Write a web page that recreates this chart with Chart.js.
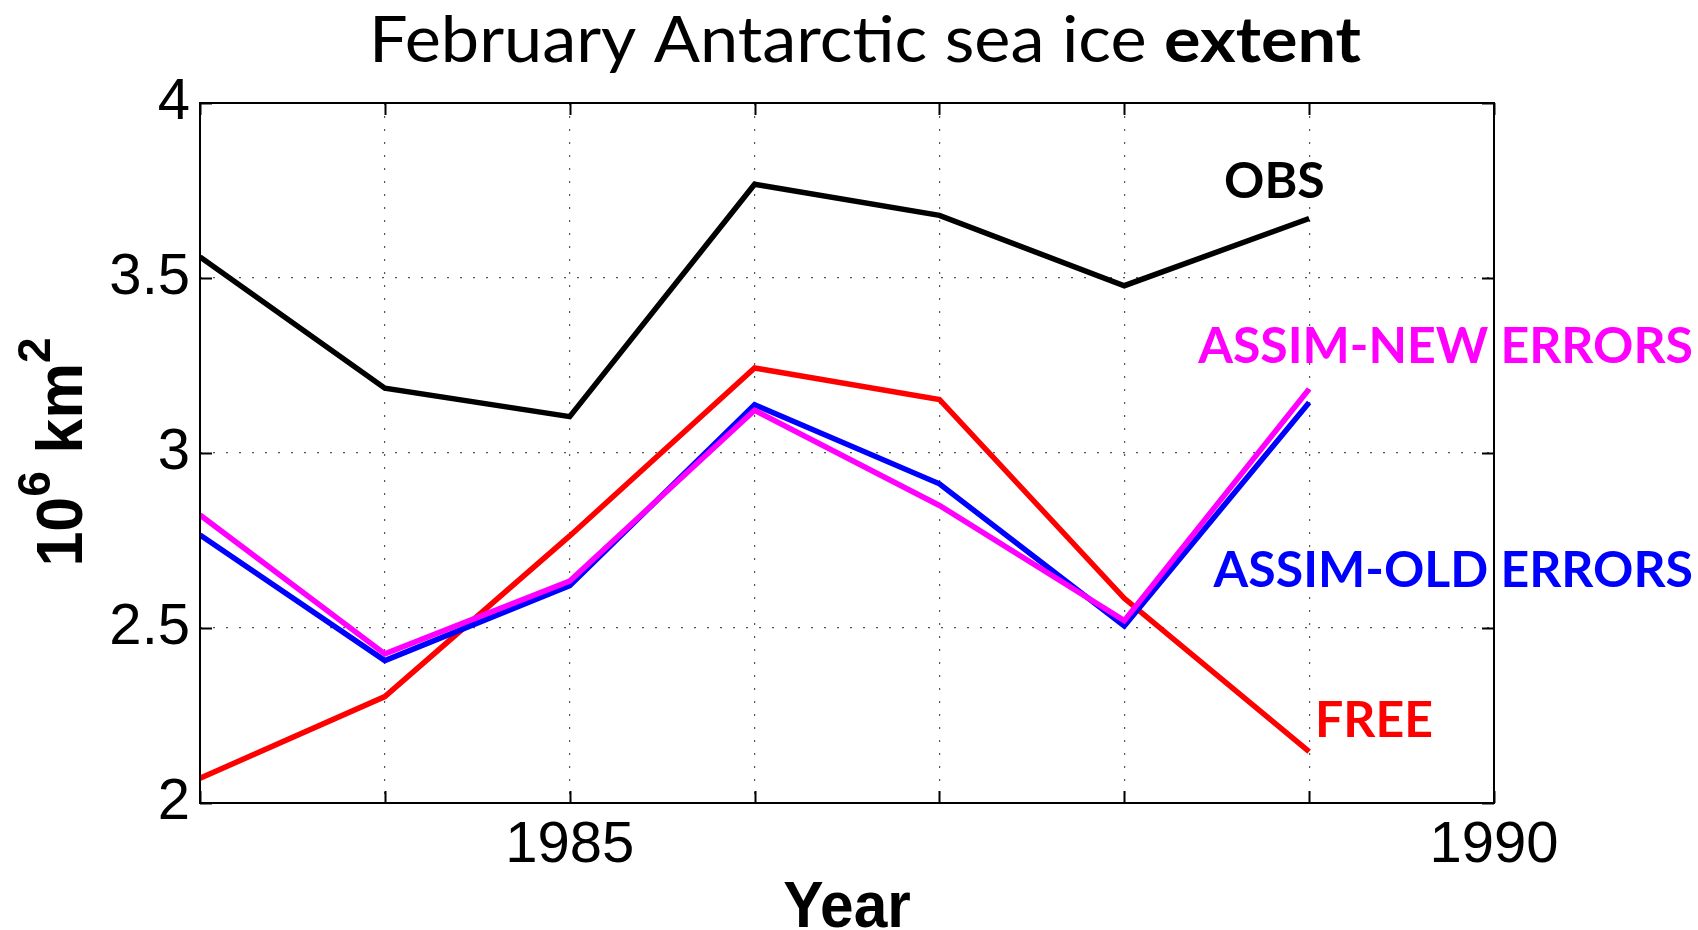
<!DOCTYPE html>
<html>
<head>
<meta charset="utf-8">
<script src="https://cdn.jsdelivr.net/npm/chart.js@4/dist/chart.umd.min.js"></script>
<style>
  html, body { margin: 0; padding: 0; background: #fff; overflow: hidden; }
  #wrap { width: 1698px; height: 930px; position: relative; }
</style>
</head>
<body>
<div id="wrap"><canvas id="c" width="1698" height="930"></canvas></div>
<script>
// February Antarctic sea ice extent, 10^6 km^2
const years = [1983, 1984, 1985, 1986, 1987, 1988, 1989];
const obs       = [3.560, 3.185, 3.104, 3.768, 3.679, 3.478, 3.670];
const free      = [2.071, 2.304, 2.763, 3.243, 3.153, 2.585, 2.147];
const assimOld  = [2.766, 2.407, 2.621, 3.138, 2.912, 2.506, 3.144];
const assimNew  = [2.823, 2.426, 2.634, 3.122, 2.850, 2.521, 3.183];
const xTickLabels = [1985, 1990];
const yTicks = [2, 2.5, 3, 3.5, 4];

const seriesNames  = ['OBS', 'ASSIM-NEW ERRORS', 'ASSIM-OLD ERRORS', 'FREE'];
const seriesColors = ['#000000', '#ff00ff', '#0000ff', '#ff0000'];

const toPoints = vals => years.map((yr, i) => ({ x: yr, y: vals[i] }));

const TICK_FONT = '"Liberation Sans", Arial, sans-serif';
const LABEL_FONT = 'Lato, "Open Sans", sans-serif';

// Title: regular text followed by a bold word, set to a fixed line width
const titlePlugin = {
  id: 'titleMixed',
  afterDraw(chart) {
    const ctx = chart.ctx;
    const partA = 'February Antarctic sea ice ';
    const partB = 'extent';
    const fA = '400 63px ' + LABEL_FONT;
    const fB = '700 63px ' + LABEL_FONT;
    const lineWidth = 992;
    ctx.save();
    ctx.fillStyle = '#000';
    ctx.textBaseline = 'alphabetic';
    ctx.font = fA; const wA = ctx.measureText(partA).width;
    ctx.font = fB; const wB = ctx.measureText(partB).width;
    const k = lineWidth / (wA + wB);
    ctx.translate(865 - lineWidth / 2, 62);
    ctx.scale(k, 1);
    ctx.textAlign = 'left';
    ctx.font = fA; ctx.fillText(partA, 0, 0);
    ctx.font = fB; ctx.fillText(partB, wA, 0);
    ctx.restore();
  }
};

// Axis titles: "Year" and the rotated unit label with superscripts
const axisTitlePlugin = {
  id: 'axisTitles',
  afterDraw(chart) {
    const ctx = chart.ctx;
    const area = chart.chartArea;
    ctx.save();
    ctx.fillStyle = '#000';
    ctx.textBaseline = 'alphabetic';
    // x title
    ctx.font = '700 65px ' + TICK_FONT;
    ctx.textAlign = 'center';
    ctx.save();
    ctx.translate((area.left + area.right) / 2, 927);
    ctx.scale(0.93, 1);
    ctx.fillText('Year', 0, 0);
    ctx.restore();

    // y title, reading bottom to top
    const sx = 0.98;
    const big = '700 64px ' + TICK_FONT;
    const small = '700 47px ' + TICK_FONT;
    const parts = [
      { t: '10', f: big, dy: 0 },
      { t: '6', f: small, dy: -32 },
      { t: ' km', f: big, dy: 0 },
      { t: '2', f: small, dy: -32 }
    ];
    let total = 0;
    parts.forEach(p => { ctx.font = p.f; p.w = ctx.measureText(p.t).width * sx; total += p.w; });
    const centerY = 452;
    ctx.translate(82, centerY + total / 2);
    ctx.rotate(-Math.PI / 2);
    ctx.textAlign = 'left';
    let pos = 0;
    parts.forEach(p => {
      ctx.save();
      ctx.font = p.f;
      ctx.translate(pos, p.dy);
      ctx.scale(sx, 1);
      ctx.fillText(p.t, 0, 0);
      ctx.restore();
      pos += p.w;
    });
    ctx.restore();
  }
};

// Box frame with inward tick marks on all four sides
const framePlugin = {
  id: 'frame',
  afterDatasetsDraw(chart) {
    const ctx = chart.ctx;
    const a = chart.chartArea;
    const xs = chart.scales.x, ys = chart.scales.y;
    const len = 12;
    ctx.save();
    ctx.strokeStyle = '#000';
    ctx.lineWidth = 2;
    ctx.setLineDash([]);
    ctx.beginPath();
    xs.ticks.forEach(t => {
      const px = Math.round(xs.getPixelForValue(t.value)) + 0.5;
      ctx.moveTo(px, a.bottom); ctx.lineTo(px, a.bottom - len);
      ctx.moveTo(px, a.top); ctx.lineTo(px, a.top + len);
    });
    ys.ticks.forEach(t => {
      const py = Math.round(ys.getPixelForValue(t.value)) + 0.5;
      ctx.moveTo(a.left, py); ctx.lineTo(a.left + len, py);
      ctx.moveTo(a.right, py); ctx.lineTo(a.right - len, py);
    });
    ctx.stroke();
    ctx.strokeRect(a.left, a.top, a.right - a.left, a.bottom - a.top);
    ctx.restore();
  }
};

// Series names written next to the line ends
const seriesLabelPlugin = {
  id: 'seriesLabels',
  afterDraw(chart) {
    const ctx = chart.ctx;
    const placements = [
      { x: 1224, y: 198, align: 'left' },
      { x: 1693, y: 363, align: 'right' },
      { x: 1693, y: 587, align: 'right' },
      { x: 1315, y: 737, align: 'left' }
    ];
    ctx.save();
    ctx.font = '700 50px ' + LABEL_FONT;
    ctx.textBaseline = 'alphabetic';
    seriesNames.forEach((name, i) => {
      const p = placements[i];
      ctx.fillStyle = seriesColors[i];
      ctx.textAlign = p.align;
      ctx.fillText(name, p.x, p.y);
    });
    ctx.restore();
  }
};

const lineStyle = (label, vals, color, order) => ({
  label,
  data: toPoints(vals),
  borderColor: color,
  backgroundColor: color,
  borderWidth: 5.5,
  pointRadius: 0,
  tension: 0,
  fill: false,
  order
});

new Chart(document.getElementById('c'), {
  type: 'line',
  data: {
    datasets: [
      lineStyle(seriesNames[0], obs, seriesColors[0], 0),
      lineStyle(seriesNames[1], assimNew, seriesColors[1], 1),
      lineStyle(seriesNames[2], assimOld, seriesColors[2], 2),
      lineStyle(seriesNames[3], free, seriesColors[3], 3)
    ]
  },
  options: {
    responsive: false,
    animation: false,
    devicePixelRatio: 1,
    layout: { padding: { top: 103, right: 204, left: 0, bottom: 0 } },
    plugins: {
      legend: { display: false },
      tooltip: { enabled: false },
      title: { display: false }
    },
    scales: {
      x: {
        type: 'linear',
        min: 1983,
        max: 1990,
        afterBuildTicks: s => { s.ticks = []; for (let v = 1983; v <= 1990; v++) s.ticks.push({ value: v }); },
        afterFit: s => { s.height = 127; s.paddingLeft = 0; s.paddingRight = 0; },
        ticks: {
          autoSkip: false,
          maxRotation: 0,
          padding: 8,
          color: '#000',
          font: { family: TICK_FONT, size: 58 },
          callback: v => xTickLabels.includes(v) ? String(v) : ''
        },
        grid: { color: '#555', lineWidth: 1.2, drawTicks: false },
        border: { display: false, dash: [2, 11] }
      },
      y: {
        type: 'linear',
        min: 2,
        max: 4,
        afterBuildTicks: s => { s.ticks = yTicks.map(v => ({ value: v })); },
        afterFit: s => { s.width = 200; s.paddingTop = 0; s.paddingBottom = 0; },
        ticks: {
          padding: 10,
          color: '#000',
          font: { family: TICK_FONT, size: 58 },
          callback: v => String(v)
        },
        grid: { color: '#555', lineWidth: 1.2, drawTicks: false },
        border: { display: false, dash: [2, 11] }
      }
    }
  },
  plugins: [framePlugin, seriesLabelPlugin, axisTitlePlugin, titlePlugin]
});
</script>
</body>
</html>
